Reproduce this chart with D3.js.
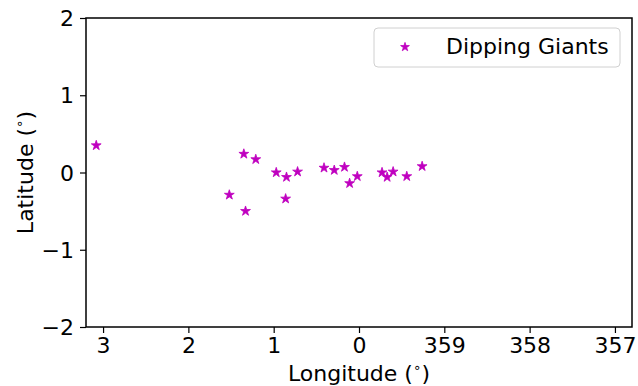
<!DOCTYPE html>
<html><head><meta charset="utf-8">
<script src="https://cdn.jsdelivr.net/npm/d3@7"></script>
<style>body{margin:0;background:#fff}svg{display:block}text{font-family:"DejaVu Sans",sans-serif;fill:#000}</style>
</head><body>
<script>
const longitudes = [3.08,1.52,1.35,1.33,1.21,0.97,0.86,0.85,0.72,0.41,0.29,0.17,0.11,0.02,-0.27,-0.33,-0.40,-0.56,-0.74];
const latitudes  = [0.35,-0.29,0.24,-0.50,0.17,0.00,-0.34,-0.06,0.01,0.06,0.03,0.07,-0.14,-0.05,0.00,-0.06,0.01,-0.05,0.08];
const xTickValues = [3,2,1,0,-1,-2,-3];
const xTickLabels = ["3","2","1","0","359","358","357"];
const yTickValues = [2,1,0,-1,-2];
const seriesName = "Dipping Giants";

const W=638,H=386;
const m={l:86,r:6,t:18,b:59};
const FS=22;
const svg=d3.select("body").append("svg").attr("width",W).attr("height",H);
const x=d3.scaleLinear().domain([3.2,-3.2]).range([m.l,W-m.r]);
const y=d3.scaleLinear().domain([-2,2]).range([H-m.b,m.t]);
const color="#bf00bf";

const xa=svg.append("g").attr("transform",`translate(0,${H-m.b})`)
  .call(d3.axisBottom(x).tickValues(xTickValues).tickFormat((d,i)=>xTickLabels[i]).tickSize(6).tickPadding(4));
const ya=svg.append("g").attr("transform",`translate(${m.l},0)`)
  .call(d3.axisLeft(y).tickValues(yTickValues).tickFormat(d=>d<0?"\u2212"+Math.abs(d):d).tickSize(6).tickPadding(6));
[xa,ya].forEach(g=>{g.attr("font-size",FS);g.selectAll("text").attr("font-size",FS).style("font-family","DejaVu Sans");
  g.selectAll("line").attr("stroke","#000").attr("stroke-width",1.2);
  g.select(".domain").remove();});
ya.selectAll("text").attr("dy","0.35em");

svg.append("rect").attr("x",m.l).attr("y",m.t).attr("width",W-m.r-m.l).attr("height",H-m.b-m.t)
  .attr("fill","none").attr("stroke","#000").attr("stroke-width",1.5);

const star=d3.symbol().type(d3.symbolStar).size(30);
svg.append("g").selectAll("path").data(longitudes).join("path")
  .attr("d",star).attr("transform",(d,i)=>`translate(${x(d)},${y(latitudes[i])})`)
  .attr("fill",color).attr("stroke",color).attr("stroke-width",0.8);

// axis labels
function degLabel(t,base){
  t.append("tspan").text(base+" (");
  t.append("tspan").attr("font-size",FS*0.62).attr("dy",-FS*0.4).text("\u2218");
  t.append("tspan").attr("dy",FS*0.4).text(")");
}
const xl=svg.append("text").attr("x",(m.l+W-m.r)/2).attr("y",381).attr("text-anchor","middle").attr("font-size",FS);
degLabel(xl,"Longitude");
const yl=svg.append("text").attr("transform",`translate(33,${(m.t+H-m.b)/2}) rotate(-90)`).attr("text-anchor","middle").attr("font-size",FS);
degLabel(yl,"Latitude");

// legend
const lg=svg.append("g");
lg.append("rect").attr("x",374).attr("y",28).attr("width",246).attr("height",39).attr("rx",4)
  .attr("fill","#fff").attr("stroke","#d0d0d0").attr("stroke-width",1);
lg.append("path").attr("d",d3.symbol().type(d3.symbolStar).size(24)).attr("transform","translate(405,47)").attr("fill",color).attr("stroke",color).attr("stroke-width",0.8);
lg.append("text").attr("x",446).attr("y",54).attr("font-size",FS).text(seriesName);
</script>
</body></html>
